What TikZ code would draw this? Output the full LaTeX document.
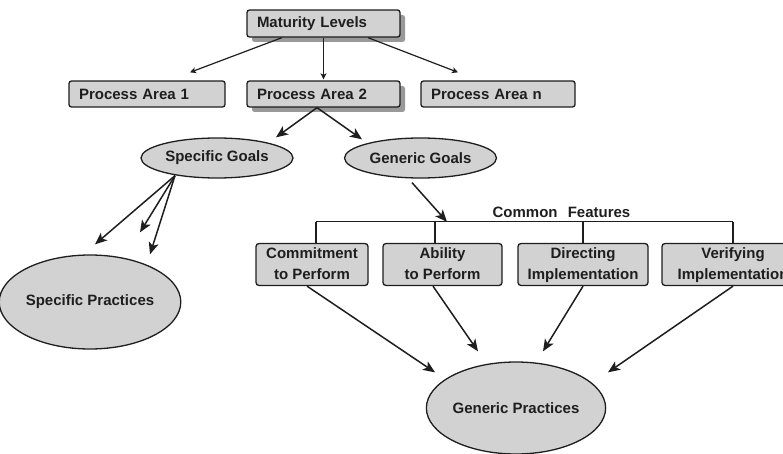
\documentclass[tikz,border=0pt]{standalone}
\usepackage{fontspec}
\setmainfont{Liberation Sans}
\usetikzlibrary{shapes.geometric,shadows,calc,arrows.meta}
\definecolor{boxfill}{HTML}{D2D2D2}
\definecolor{ink}{HTML}{1E1E1E}
\begin{document}
\begin{tikzpicture}[x=1pt,y=-1pt,
  font=\fontsize{15}{21}\selectfont\bfseries,
  every node/.style={text=ink},
  leftbox/.style={draw=ink,line width=1.3pt,fill=boxfill,rounded corners=2.5pt,
     inner xsep=10pt,inner ysep=0pt,minimum height=26pt,align=left},
  shadowed/.style={drop shadow={shadow xshift=5pt,shadow yshift=-5pt,fill=black!40,opacity=1}},
  featbox/.style={draw=ink,line width=1.3pt,fill=boxfill,rounded corners=3pt,
     inner xsep=0pt,inner ysep=0pt,minimum height=41pt,align=center},
  oval/.style={draw=ink,line width=1.3pt,fill=boxfill,ellipse,inner sep=0pt},
  bigarrow/.style={draw=ink,line width=1.5pt,-{Stealth[length=12pt,width=10pt,inset=3pt]}},
  smallarrow/.style={draw=ink,line width=1.2pt,-{Stealth[length=6pt,width=6pt,inset=1.5pt]}},
  plainline/.style={draw=ink,line width=1.2pt}
]
\useasboundingbox (0,0) rectangle (783,454);
\clip (0,0) rectangle (783,454);

% top level
\node[leftbox,shadowed,text width=133pt,minimum height=27pt] (ml) at (323.5,23.5) {Maturity Levels};
\node[leftbox,text width=136pt] (pa1) at (147,94) {Process Area 1};
\node[leftbox,shadowed,text width=133pt] (pa2) at (323.5,94) {Process Area 2};
\node[leftbox,text width=134pt] (pan) at (498,94) {Process Area n};

% goals
\node[oval,minimum width=152pt,minimum height=40pt] (sg) at (217,158) {Specific Goals};
\node[oval,minimum width=152pt,minimum height=40pt] (gg) at (420.5,158) {Generic Goals};

% practices
\node[oval,minimum width=164pt,minimum height=94pt] (sp) at (90,302) {Specific Practices};
\node[oval,minimum width=162pt,minimum height=92pt] (gp) at (516,408) {Generic Practices};

% common features
\node (cf) at (561.5,212) {Common\hspace{6pt} Features};
\node[featbox,minimum width=112pt] (b1) at (312,264.5) {\strut Commitment\\\strut to Perform};
\node[featbox,minimum width=119pt] (b2) at (442.5,264.5) {\strut Ability\\\strut to Perform};
\node[featbox,minimum width=130pt] (b3) at (583,264.5) {\strut Directing\\\strut Implementation};
\node[featbox,minimum width=142pt] (b4) at (733,264.5) {\strut Verifying\\\strut Implementation};

\coordinate (barL) at ($(b1.north)+(4,-21)$);
\coordinate (barR) at ($(b4.north)+(0,-21)$);
\draw[plainline] (barL) -- (barR);
\draw[plainline] (barL) -- (barL |- b1.north);
\draw[plainline] ($(b2.north)+(-7.5,0)$) -- ($(b2.north)+(-7.5,-21)$);
\draw[plainline] (b3.north) -- ($(b3.north)+(0,-21)$);
\draw[plainline] (b4.north) -- (barR);

% arrows from maturity levels
\draw[smallarrow] ($(ml.south)+(-41.5,0)$) -- ($(pa1.north)+(43,-8)$);
\draw[smallarrow] (ml.south) -- ($(pa2.north)+(0,-1)$);
\draw[smallarrow] ($(ml.south)+(44.5,0)$) -- ($(pan.north)+(-40,-8)$);

% arrows from process area 2
\draw[bigarrow] ($(pa2.south)+(-6.5,0)$) -- ($(sg.north)+(59,0)$);
\draw[bigarrow] ($(pa2.south)+(-6.5,0)$) -- ($(gg.north)+(-58.5,2)$);

% arrows from specific goals
\draw[bigarrow] ($(sg.south)+(-42,-3)$) -- ($(sp.north)+(5,-10)$);
\draw[bigarrow] ($(sg.south)+(-42,-3)$) -- ($(sp.north)+(50,-22)$);
\draw[bigarrow] ($(sg.south)+(-42,-3)$) -- ($(sp.north)+(60,0)$);

% arrow from generic goals to common features
\draw[bigarrow] ($(gg.south)+(-8.5,4)$) -- ($(barL)+(131,0)$);

% arrows to generic practices
\draw[bigarrow] ($(b1.south)+(-5,0)$) -- ($(gp.north)+(-81,11)$);
\draw[bigarrow] ($(b2.south)+(-9.5,0)$) -- ($(gp.north)+(-38,-10)$);
\draw[bigarrow] (b3.south) -- ($(gp.north)+(27,-10)$);
\draw[bigarrow] (b4.south) -- ($(gp.north)+(92,11)$);
\end{tikzpicture}
\end{document}
